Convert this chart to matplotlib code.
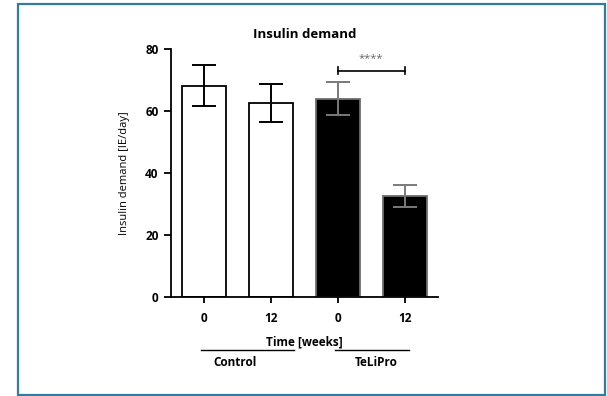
import matplotlib
matplotlib.use("Agg")
import matplotlib.pyplot as plt
from matplotlib.patches import Rectangle
from matplotlib.transforms import blended_transform_factory

plt.rcParams["font.family"] = ["Open Sans", "DejaVu Sans"]

# data
time_labels = ["0", "12", "0", "12"]
groups = ["Control", "TeLiPro"]
group_spans = [(-0.05, 1.34), (1.96, 3.06)]
group_label_x = [0.46, 2.58]
means = [68.2, 62.6, 64.0, 32.5]
errors = [6.5, 6.0, 5.3, 3.6]
bar_colors = ["white", "white", "black", "black"]
edge_colors = ["black", "black", "#6e6e6e", "#6e6e6e"]
err_colors = ["black", "black", "#7a7a7a", "#7a7a7a"]
sig_pair = (2, 3)
sig_height = 73
sig_text = "****"

fig = plt.figure(figsize=(6.07, 3.96), dpi=100)
ax = fig.add_axes([0.2817, 0.25, 0.4399, 0.6263])

x = list(range(len(means)))
ax.bar(x, means, width=0.66, color=bar_colors, edgecolor=edge_colors,
       linewidth=1.3, zorder=2)
for xi, m, e, c in zip(x, means, errors, err_colors):
    ax.errorbar(xi, m, yerr=e, fmt="none", ecolor=c, elinewidth=1.4,
                capsize=8.3, capthick=1.4, zorder=3)

# significance bracket
x1, x2 = sig_pair
ax.plot([x1, x2], [sig_height, sig_height], color="black", lw=1.2)
ax.plot([x1, x1], [sig_height - 1.2, sig_height + 1.2], color="black", lw=1.2)
ax.plot([x2, x2], [sig_height - 1.2, sig_height + 1.2], color="black", lw=1.2)
ax.text((x1 + x2) / 2, sig_height + 2.0, sig_text, ha="center", va="bottom",
        fontsize=8, color="#666666")

ax.set_xlim(-0.5, 3.5)
ax.set_ylim(0, 80)
ax.set_yticks([0, 20, 40, 60, 80])
ax.set_xticks(x)
ax.set_xticklabels(time_labels)
for s in ["top", "right"]:
    ax.spines[s].set_visible(False)
for s in ["left", "bottom"]:
    ax.spines[s].set_linewidth(1.3)
ax.tick_params(axis="y", length=5, width=1.3, pad=4, labelsize=8.5)
ax.tick_params(axis="x", length=4.5, width=1.3, pad=6, labelsize=8.5)
for lab in ax.get_xticklabels() + ax.get_yticklabels():
    lab.set_fontweight("bold")

ax.set_title("Insulin demand", fontsize=9.5, fontweight="bold", pad=8)
ax.set_ylabel("Insulin demand [IE/day]", fontsize=8, labelpad=11)
ax.set_xlabel("Time [weeks]", fontsize=8.5, fontweight="bold", labelpad=8)

# group lines and labels below the axis
trans = blended_transform_factory(ax.transData, fig.transFigure)
for name, span, lx in zip(groups, group_spans, group_label_x):
    ax.plot(span, [1 - 350 / 396] * 2, transform=trans,
            color="black", lw=1.0, clip_on=False)
    ax.text(lx, 1 - 362 / 396, name, transform=trans, ha="center",
            va="center", fontsize=8.5, fontweight="bold")

# frame around the figure
fig.patches.append(Rectangle((18 / 607, 1 / 396), 587 / 607, 391 / 396,
                             transform=fig.transFigure, fill=False,
                             edgecolor="#2f7f9c", linewidth=1.6))

fig.savefig("out.png", dpi=100)
